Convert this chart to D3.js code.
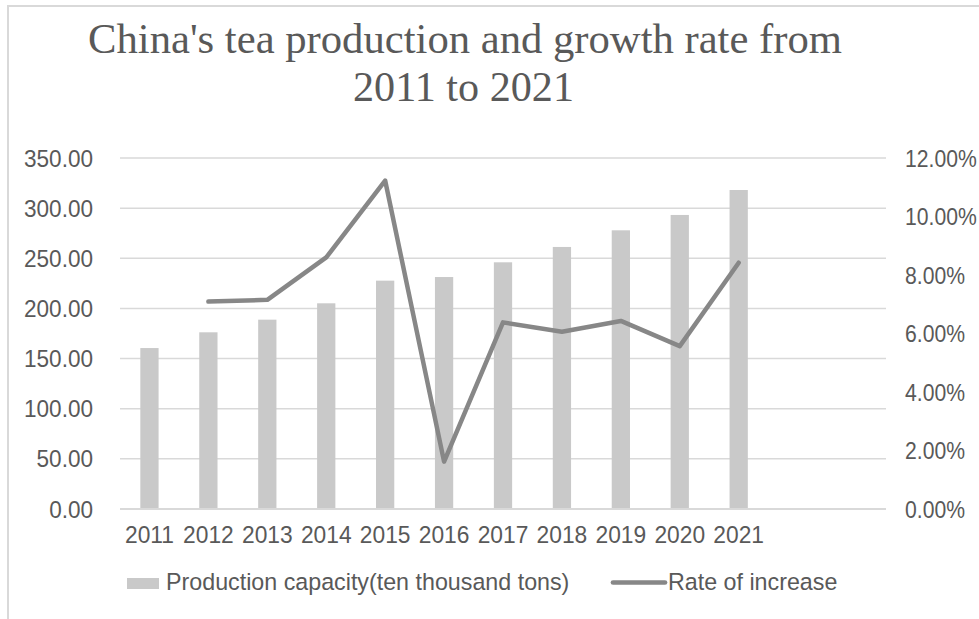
<!DOCTYPE html>
<html>
<head>
<meta charset="utf-8">
<script src="https://cdn.jsdelivr.net/npm/d3@7"></script>
<style>
  html, body { margin: 0; padding: 0; background: #ffffff; }
  svg { display: block; }
</style>
</head>
<body>
<svg id="chart" width="979" height="619"></svg>
<script>
// Tea output by year (ten thousand tons) and its yearly rate of increase
const years = ["2011", "2012", "2013", "2014", "2015", "2016", "2017", "2018", "2019", "2020", "2021"];
const production = [160.5, 176.2, 188.8, 205.1, 227.7, 231.3, 246.0, 261.3, 277.9, 293.2, 318.1];
const growthRate = [null, 0.0709, 0.0715, 0.0860, 0.1123, 0.0162, 0.0638, 0.0606, 0.0643, 0.0557, 0.0842];
const emptySlots = 2; // the category axis keeps two unused slots after 2021

const leftTicks = [0, 50, 100, 150, 200, 250, 300, 350];
const rightTicks = [0, 0.02, 0.04, 0.06, 0.08, 0.10, 0.12];

const titleLines = ["China's tea production and growth rate from", "2011 to 2021"];
const legendLabels = ["Production capacity(ten thousand tons)", "Rate of increase"];

const textColor = "#595959";
const gridColor = "#d9d9d9";
const barColor = "#c9c9c9";
const lineColor = "#878787";
const labelFont = "'Liberation Sans', Arial, sans-serif";
const labelSize = 23.5;

const svg = d3.select("#chart");

// chart frame
svg.append("path")
  .attr("d", "M8,619 V6 H979")
  .attr("fill", "none")
  .attr("stroke", "#d9d9d9")
  .attr("stroke-width", 2);

const plot = { left: 120, right: 886, top: 158, bottom: 509 };

const slots = d3.range(years.length + emptySlots);
const x = d3.scaleBand()
  .domain(slots)
  .range([plot.left, plot.right])
  .paddingInner(0.69)
  .paddingOuter(0.345);

const yLeft = d3.scaleLinear().domain([0, 350]).range([plot.bottom, plot.top]);
const yRight = d3.scaleLinear().domain([0, 0.12]).range([plot.bottom, plot.top]);

// text helper; numbers use a slightly condensed setting
function label(sel, tx, ty, str, anchor, squeeze) {
  return sel.append("text")
    .attr("transform", `translate(${tx},${ty}) scale(${squeeze},1)`)
    .attr("text-anchor", anchor)
    .attr("font-family", labelFont)
    .attr("font-size", labelSize)
    .attr("fill", textColor)
    .text(str);
}

// gridlines
svg.append("g")
  .selectAll("line")
  .data(leftTicks.filter(d => d > 0))
  .join("line")
  .attr("x1", plot.left).attr("x2", plot.right)
  .attr("y1", d => yLeft(d)).attr("y2", d => yLeft(d))
  .attr("stroke", gridColor)
  .attr("stroke-width", 1.5);

// bars
const centre = i => x(i) + x.bandwidth() / 2;
svg.append("g")
  .selectAll("rect")
  .data(production)
  .join("rect")
  .attr("x", (d, i) => x(i))
  .attr("width", x.bandwidth())
  .attr("y", d => yLeft(d))
  .attr("height", d => yLeft(0) - yLeft(d))
  .attr("fill", barColor);

// category axis line
svg.append("line")
  .attr("x1", plot.left).attr("x2", plot.right)
  .attr("y1", plot.bottom).attr("y2", plot.bottom)
  .attr("stroke", gridColor)
  .attr("stroke-width", 2.2);

// growth line on the secondary axis
const line = d3.line()
  .defined(d => d != null)
  .x((d, i) => centre(i))
  .y(d => yRight(d));

svg.append("path")
  .datum(growthRate)
  .attr("d", line)
  .attr("fill", "none")
  .attr("stroke", lineColor)
  .attr("stroke-width", 4.5)
  .attr("stroke-linejoin", "round")
  .attr("stroke-linecap", "round");

// left axis labels
const leftG = svg.append("g");
leftTicks.forEach(t => {
  label(leftG, 93, yLeft(t) + 8.5, d3.format(".2f")(t), "end", 0.96);
});

// right axis labels
const rightG = svg.append("g");
rightTicks.forEach(t => {
  label(rightG, 905, yRight(t) + 8.5, d3.format(".2%")(t), "start", 0.9);
});

// category labels
const xG = svg.append("g");
years.forEach((yr, i) => {
  label(xG, centre(i), 542.7, yr, "middle", 0.97);
});

// title, set in a condensed serif
const titleG = svg.append("g");
const titleSpans = [
  { x0: 88, x1: 842, base: 53 },
  { x0: 353, x1: 574, base: 101 }
];
titleLines.forEach((t, i) => {
  const s = titleSpans[i];
  titleG.append("text")
    .attr("x", s.x0)
    .attr("y", s.base)
    .attr("textLength", s.x1 - s.x0)
    .attr("lengthAdjust", "spacingAndGlyphs")
    .attr("font-family", "'Liberation Serif', 'Times New Roman', serif")
    .attr("font-size", 43)
    .attr("fill", textColor)
    .text(t);
});

// legend
const legendG = svg.append("g");
legendG.append("rect")
  .attr("x", 127).attr("y", 578)
  .attr("width", 32).attr("height", 11)
  .attr("fill", barColor);
label(legendG, 166, 589.5, legendLabels[0], "start", 0.99);
legendG.append("line")
  .attr("x1", 613).attr("x2", 665)
  .attr("y1", 582.5).attr("y2", 582.5)
  .attr("stroke", lineColor)
  .attr("stroke-width", 4.7)
  .attr("stroke-linecap", "round");
label(legendG, 668, 589.5, legendLabels[1], "start", 0.99);
</script>
</body>
</html>
